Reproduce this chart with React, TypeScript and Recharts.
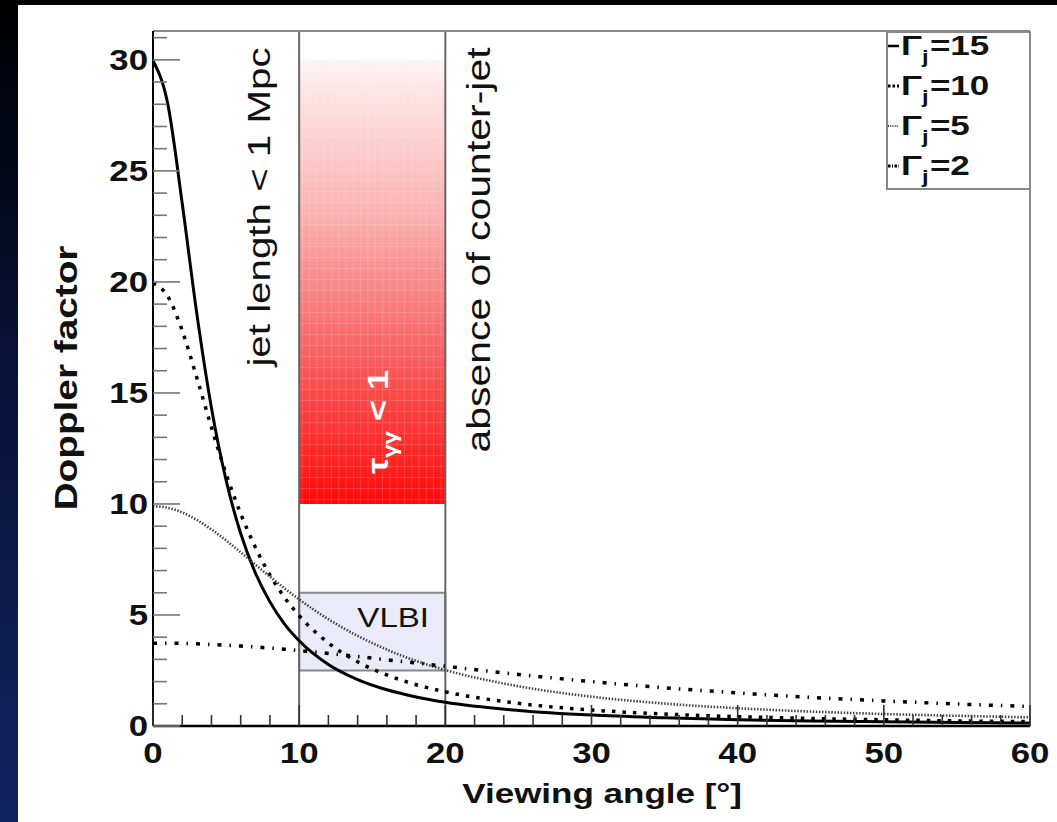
import { LineChart, Line, XAxis, YAxis, ReferenceArea, ReferenceLine, Label, Legend } from "recharts"

// viewing angle in degrees
const angles = [0, 1, 2, 3, 4, 5, 6, 7, 8, 9, 10, 12, 14, 16, 18, 20, 25, 30, 35, 40, 45, 50, 55, 60]

// Doppler factor
const gamma15 = [29.96, 28.05, 23.53, 18.56, 14.32, 11.07, 8.67, 6.9, 5.59, 4.59, 3.84, 2.77, 2.09, 1.63, 1.31, 1.07, 0.7, 0.49, 0.37, 0.28, 0.23, 0.19, 0.16, 0.13]
const gamma10 = [19.95, 19.36, 17.8, 15.68, 13.45, 11.36, 9.56, 8.05, 6.8, 5.79, 4.97, 3.74, 2.89, 2.3, 1.86, 1.54, 1.02, 0.72, 0.54, 0.42, 0.34, 0.28, 0.23, 0.2]
const gamma5 = [9.9, 9.83, 9.62, 9.28, 8.85, 8.36, 7.82, 7.27, 6.73, 6.2, 5.7, 4.81, 4.06, 3.44, 2.93, 2.52, 1.79, 1.32, 1.01, 0.8, 0.65, 0.54, 0.46, 0.39]
const gamma2 = [3.73, 3.73, 3.72, 3.7, 3.67, 3.64, 3.6, 3.56, 3.51, 3.46, 3.4, 3.27, 3.13, 2.98, 2.84, 2.69, 2.32, 2.0, 1.72, 1.49, 1.29, 1.13, 0.99, 0.88]

const xTicks = [0, 2, 4, 6, 8, 10, 12, 14, 16, 18, 20, 22, 24, 26, 28, 30, 32, 34, 36, 38, 40, 42, 44, 46, 48, 50, 52, 54, 56, 58, 60]
const xLabels = [0, 10, 20, 30, 40, 50, 60]
const yTicks = [0, 1, 2, 3, 4, 5, 6, 7, 8, 9, 10, 11, 12, 13, 14, 15, 16, 17, 18, 19, 20, 21, 22, 23, 24, 25, 26, 27, 28, 29, 30, 31]
const yLabels = [0, 5, 10, 15, 20, 25, 30]

const yMax = 31.3
const jetLimit = 10
const counterJetLimit = 20
const tauBand = [10, 30]
const vlbiBand = [2.5, 6]

const data = angles.map((a, i) => ({
  angle: a,
  g15: gamma15[i],
  g10: gamma10[i],
  g5: gamma5[i],
  g2: gamma2[i],
}))

const series = [
  { key: "g15", sub: "=15", color: "#000", width: 3, dash: undefined, legendDash: undefined, legendWidth: 2.5 },
  { key: "g10", sub: "=10", color: "#000", width: 3.5, dash: "3.5 7", legendDash: "2.5 2", legendWidth: 3 },
  { key: "g5", sub: "=5", color: "#444", width: 2.6, dash: "1.5 1.6", legendDash: "1 1.2", legendWidth: 2 },
  { key: "g2", sub: "=2", color: "#000", width: 3.5, dash: "4 8 1.5 8", legendDash: "2.5 1.5 1 1.5", legendWidth: 3 },
]

const font = "'Liberation Sans', Arial, Helvetica, sans-serif"
const SX = 1.25

function SText({ x, y, angle = 0, sx = SX, anchor = "middle", size, weight = "bold", fill = "#111", children }: any) {
  return (
    <text
      transform={`translate(${x},${y}) rotate(${angle}) scale(${sx},1)`}
      textAnchor={anchor}
      fontSize={size}
      fontWeight={weight}
      fontFamily={font}
      fill={fill}
    >
      {children}
    </text>
  )
}

function YTick(props: any) {
  const { x, y, payload } = props
  const v = payload.value
  const major = yLabels.includes(v)
  const ax = x + 5
  return (
    <g>
      <line x1={ax} x2={ax + (major ? 27 : 14)} y1={y} y2={y} stroke="#777" strokeWidth={1.6} />
      {major && (
        <SText x={x} y={y + 10} anchor="end" size={29} sx={1.2}>
          {v}
        </SText>
      )}
    </g>
  )
}

function XTick(props: any) {
  const { x, y, payload } = props
  const v = payload.value
  const major = xLabels.includes(v)
  const ay = y - 5
  return (
    <g>
      <line x1={x} x2={x} y1={ay} y2={ay - (major ? 21 : 11)} stroke="#333" strokeWidth={1.6} />
      {major && (
        <SText x={x} y={ay + 37} size={29} sx={1.2}>
          {v}
        </SText>
      )}
    </g>
  )
}

function LegendBox() {
  return (
    <svg width={145} height={159} style={{ display: "block", overflow: "visible" }}>
      <rect x={1} y={1} width={143} height={157} fill="#fff" stroke="#888" strokeWidth={2} />
      {series.map((s, i) => {
        const base = 24 + i * 40
        return (
          <g key={s.key}>
            <line
              x1={2}
              x2={13}
              y1={base - 9}
              y2={base - 9}
              stroke={s.color}
              strokeWidth={s.legendWidth}
              strokeDasharray={s.legendDash}
            />
            <text
              transform={`translate(15,${base}) scale(1.25,1)`}
              fontSize={28}
              fontWeight="bold"
              fontFamily={font}
              fill="#111"
            >
              Γ<tspan fontSize={19} dy={8}>j</tspan>
              <tspan dy={-8} dx={1}>{s.sub}</tspan>
            </text>
          </g>
        )
      })}
    </svg>
  )
}

export default function App() {
  return (
    <div
      style={{
        position: "absolute",
        left: 0,
        top: 0,
        width: 1057,
        height: 822,
        overflow: "hidden",
        background: "linear-gradient(180deg, #000 0%, #02040f 12%, #071338 45%, #102461 100%)",
      }}
    >
      <div style={{ position: "absolute", left: 18, top: 5, width: 1039, height: 817, background: "#fff" }}>
        <LineChart width={1039} height={817} data={data} margin={{ top: 26, right: 27, bottom: 0, left: 0 }}>
          <defs>
            <linearGradient id="tauGrad" x1="0" y1="0" x2="0" y2="1">
              <stop offset="0%" stopColor="#fff4f4" />
              <stop offset="6%" stopColor="#fde6e6" />
              <stop offset="35%" stopColor="#fbb0b0" />
              <stop offset="65%" stopColor="#f76464" />
              <stop offset="100%" stopColor="#ff0a0a" />
            </linearGradient>
            <pattern id="tauGrid" width={7.3} height={11} patternUnits="userSpaceOnUse">
              <path d="M 7.3 0 L 7.3 11 M 0 11 L 7.3 11" stroke="#ffffff" strokeOpacity={0.35} strokeWidth={0.8} fill="none" />
            </pattern>
          </defs>

          <XAxis
            dataKey="angle"
            type="number"
            domain={[0, 60]}
            ticks={xTicks}
            interval={0}
            height={96}
            tickSize={0}
            tickMargin={5}
            tickLine={false}
            axisLine={{ stroke: "#000", strokeWidth: 2.5 }}
            tick={<XTick />}
          >
            <Label
              content={(p: any) => (
                <SText x={p.viewBox.x + 589} y={p.viewBox.y + 77} anchor="end" size={28}>
                  Viewing angle [°]
                </SText>
              )}
            />
          </XAxis>
          <YAxis
            type="number"
            domain={[0, yMax]}
            ticks={yTicks}
            interval={0}
            width={135}
            tickSize={0}
            tickMargin={5}
            tickLine={false}
            axisLine={{ stroke: "#000", strokeWidth: 2 }}
            tick={<YTick />}
          >
            <Label
              content={(p: any) => (
                <SText x={59} y={p.viewBox.y + 347} angle={-90} size={31}>
                  Doppler factor
                </SText>
              )}
            />
          </YAxis>

          <ReferenceArea
            x1={jetLimit}
            x2={counterJetLimit}
            y1={tauBand[0]}
            y2={tauBand[1]}
            fill="url(#tauGrad)"
            fillOpacity={1}
            stroke="none"
          />
          <ReferenceArea
            x1={jetLimit}
            x2={counterJetLimit}
            y1={tauBand[0]}
            y2={tauBand[1]}
            fill="url(#tauGrid)"
            fillOpacity={1}
            stroke="none"
            label={(p: any) => (
              <text
                transform={`translate(${p.viewBox.x + 89},${p.viewBox.y + p.viewBox.height - 82}) rotate(-90) scale(1.2,1)`}
                textAnchor="middle"
                fontSize={30}
                fontWeight="bold"
                fontFamily={font}
                fill="#fff"
              >
                τ<tspan fontSize={20} dy={9}>γγ</tspan>
                <tspan dy={-9}> &lt; 1</tspan>
              </text>
            )}
          />
          <ReferenceArea
            x1={jetLimit}
            x2={counterJetLimit}
            y1={vlbiBand[0]}
            y2={vlbiBand[1]}
            fill="#dcdcf4"
            fillOpacity={0.6}
            stroke="#888"
            strokeWidth={2}
            label={(p: any) => (
              <SText x={p.viewBox.x + 94} y={p.viewBox.y + 34} size={28} sx={1.18} weight="normal">
                VLBI
              </SText>
            )}
          />
          <ReferenceLine
            x={jetLimit}
            stroke="#666"
            strokeWidth={2}
            label={(p: any) => (
              <SText x={p.viewBox.x - 29} y={p.viewBox.y + 176} angle={-90} size={32} sx={1.26} weight="normal">
                jet length &lt; 1 Mpc
              </SText>
            )}
          />
          <ReferenceLine
            x={counterJetLimit}
            stroke="#666"
            strokeWidth={2}
            label={(p: any) => (
              <SText x={p.viewBox.x + 45} y={p.viewBox.y + 219} angle={-90} size={32.5} sx={1.26} weight="normal">
                absence of counter-jet
              </SText>
            )}
          />
          <ReferenceLine y={yMax} stroke="#888" strokeWidth={2} />
          <ReferenceLine x={60} stroke="#888" strokeWidth={2} />

          {series.map((s) => (
            <Line
              key={s.key}
              dataKey={s.key}
              type="monotone"
              stroke={s.color}
              strokeWidth={s.width}
              strokeDasharray={s.dash}
              dot={false}
              activeDot={false}
              isAnimationActive={false}
            />
          ))}

          <Legend
            layout="vertical"
            align="center"
            verticalAlign="middle"
            content={() => <LegendBox />}
            wrapperStyle={{ position: "absolute", left: 868, top: 26, width: 145, height: 159 }}
          />
        </LineChart>
      </div>
    </div>
  )
}
